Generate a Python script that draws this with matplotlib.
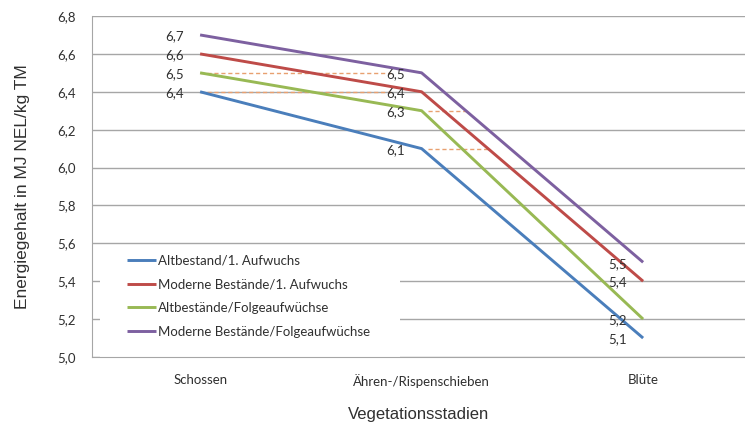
import matplotlib
matplotlib.use("Agg")
import matplotlib.pyplot as plt
from matplotlib.patches import Rectangle

# Energy content per growth stage (MJ NEL/kg TM)
stages = ["Schossen", "Ähren-/Rispenschieben", "Blüte"]
series_names = [
    "Altbestand/1. Aufwuchs",
    "Moderne Bestände/1. Aufwuchs",
    "Altbestände/Folgeaufwüchse",
    "Moderne Bestände/Folgeaufwüchse",
]
alt_erst = [6.4, 6.1, 5.1]
modern_erst = [6.6, 6.4, 5.4]
alt_folge = [6.5, 6.3, 5.2]
modern_folge = [6.7, 6.5, 5.5]
colors = ["#4A7EBB", "#BE4B48", "#98B954", "#7D60A0"]

y_ticks = [5.0, 5.2, 5.4, 5.6, 5.8, 6.0, 6.2, 6.4, 6.6, 6.8]

# stray dashed guide lines: (y, x start, x end)
guides = [(6.5, 0.0, 0.86), (6.4, 0.0, 0.86), (6.3, 1.03, 1.2), (6.1, 1.03, 1.31)]

fig = plt.figure(figsize=(7.45, 4.26), dpi=100)
ax = fig.add_axes([92 / 745, 1 - 357 / 426, 1 - 92 / 745, (357 - 16) / 426])

x = list(range(len(stages)))
all_series = [alt_erst, modern_erst, alt_folge, modern_folge]

for gy, g_from, g_to in guides:
    ax.plot([g_from, g_to], [gy, gy], color="#E8A070", lw=1.0, ls=(0, (3, 2)), zorder=2)

for vals, name, c in zip(all_series, series_names, colors):
    ax.plot(x, vals, color=c, lw=2.1, label=name, zorder=3, solid_capstyle="butt")
    for xi, v in zip(x, vals):
        ax.annotate(f"{v:.1f}".replace(".", ","), (xi, v), xytext=(-12, -1),
                    textcoords="offset points", ha="right", va="center",
                    fontsize=9.5, family="Lato", color="#303030", zorder=4)

ax.set_xlim(-0.488, 2.46)
ax.set_ylim(5.0, 6.8)
ax.set_yticks(y_ticks)
ax.set_yticklabels([f"{t:.1f}".replace(".", ",") for t in y_ticks])
ax.set_xticks(x)
ax.set_xticklabels(stages)
ax.tick_params(length=0, labelsize=9.5, labelcolor="#303030")
ax.tick_params(axis="y", pad=11.5)
ax.tick_params(axis="x", pad=12)
for lab in ax.get_xticklabels() + ax.get_yticklabels():
    lab.set_family("Lato")

ax.grid(axis="y", color="#A6A6A6", lw=1.0)
ax.set_axisbelow(True)
for s in ["top", "right"]:
    ax.spines[s].set_visible(False)
for s in ["left", "bottom"]:
    ax.spines[s].set_color("#A6A6A6")

ax.set_ylabel("Energiegehalt in MJ NEL/kg TM", family="Liberation Sans",
              fontsize=12.5, color="#303030", labelpad=20)
ax.set_xlabel("Vegetationsstadien", family="Liberation Sans",
              fontsize=12, color="#303030", labelpad=14)

# white legend area hiding the gridlines behind it
ax.add_patch(Rectangle((0.012, 0.0), 0.46, 0.32, transform=ax.transAxes,
                       facecolor="white", edgecolor="none", zorder=1))

leg = ax.legend(loc="upper left", bbox_to_anchor=(0.035, 0.336), frameon=False,
                handlelength=2.2, handletextpad=0.15, labelspacing=0.9,
                prop={"family": "Lato", "size": 9.5})
for t in leg.get_texts():
    t.set_color("#303030")

fig.savefig("out.png", dpi=100)
